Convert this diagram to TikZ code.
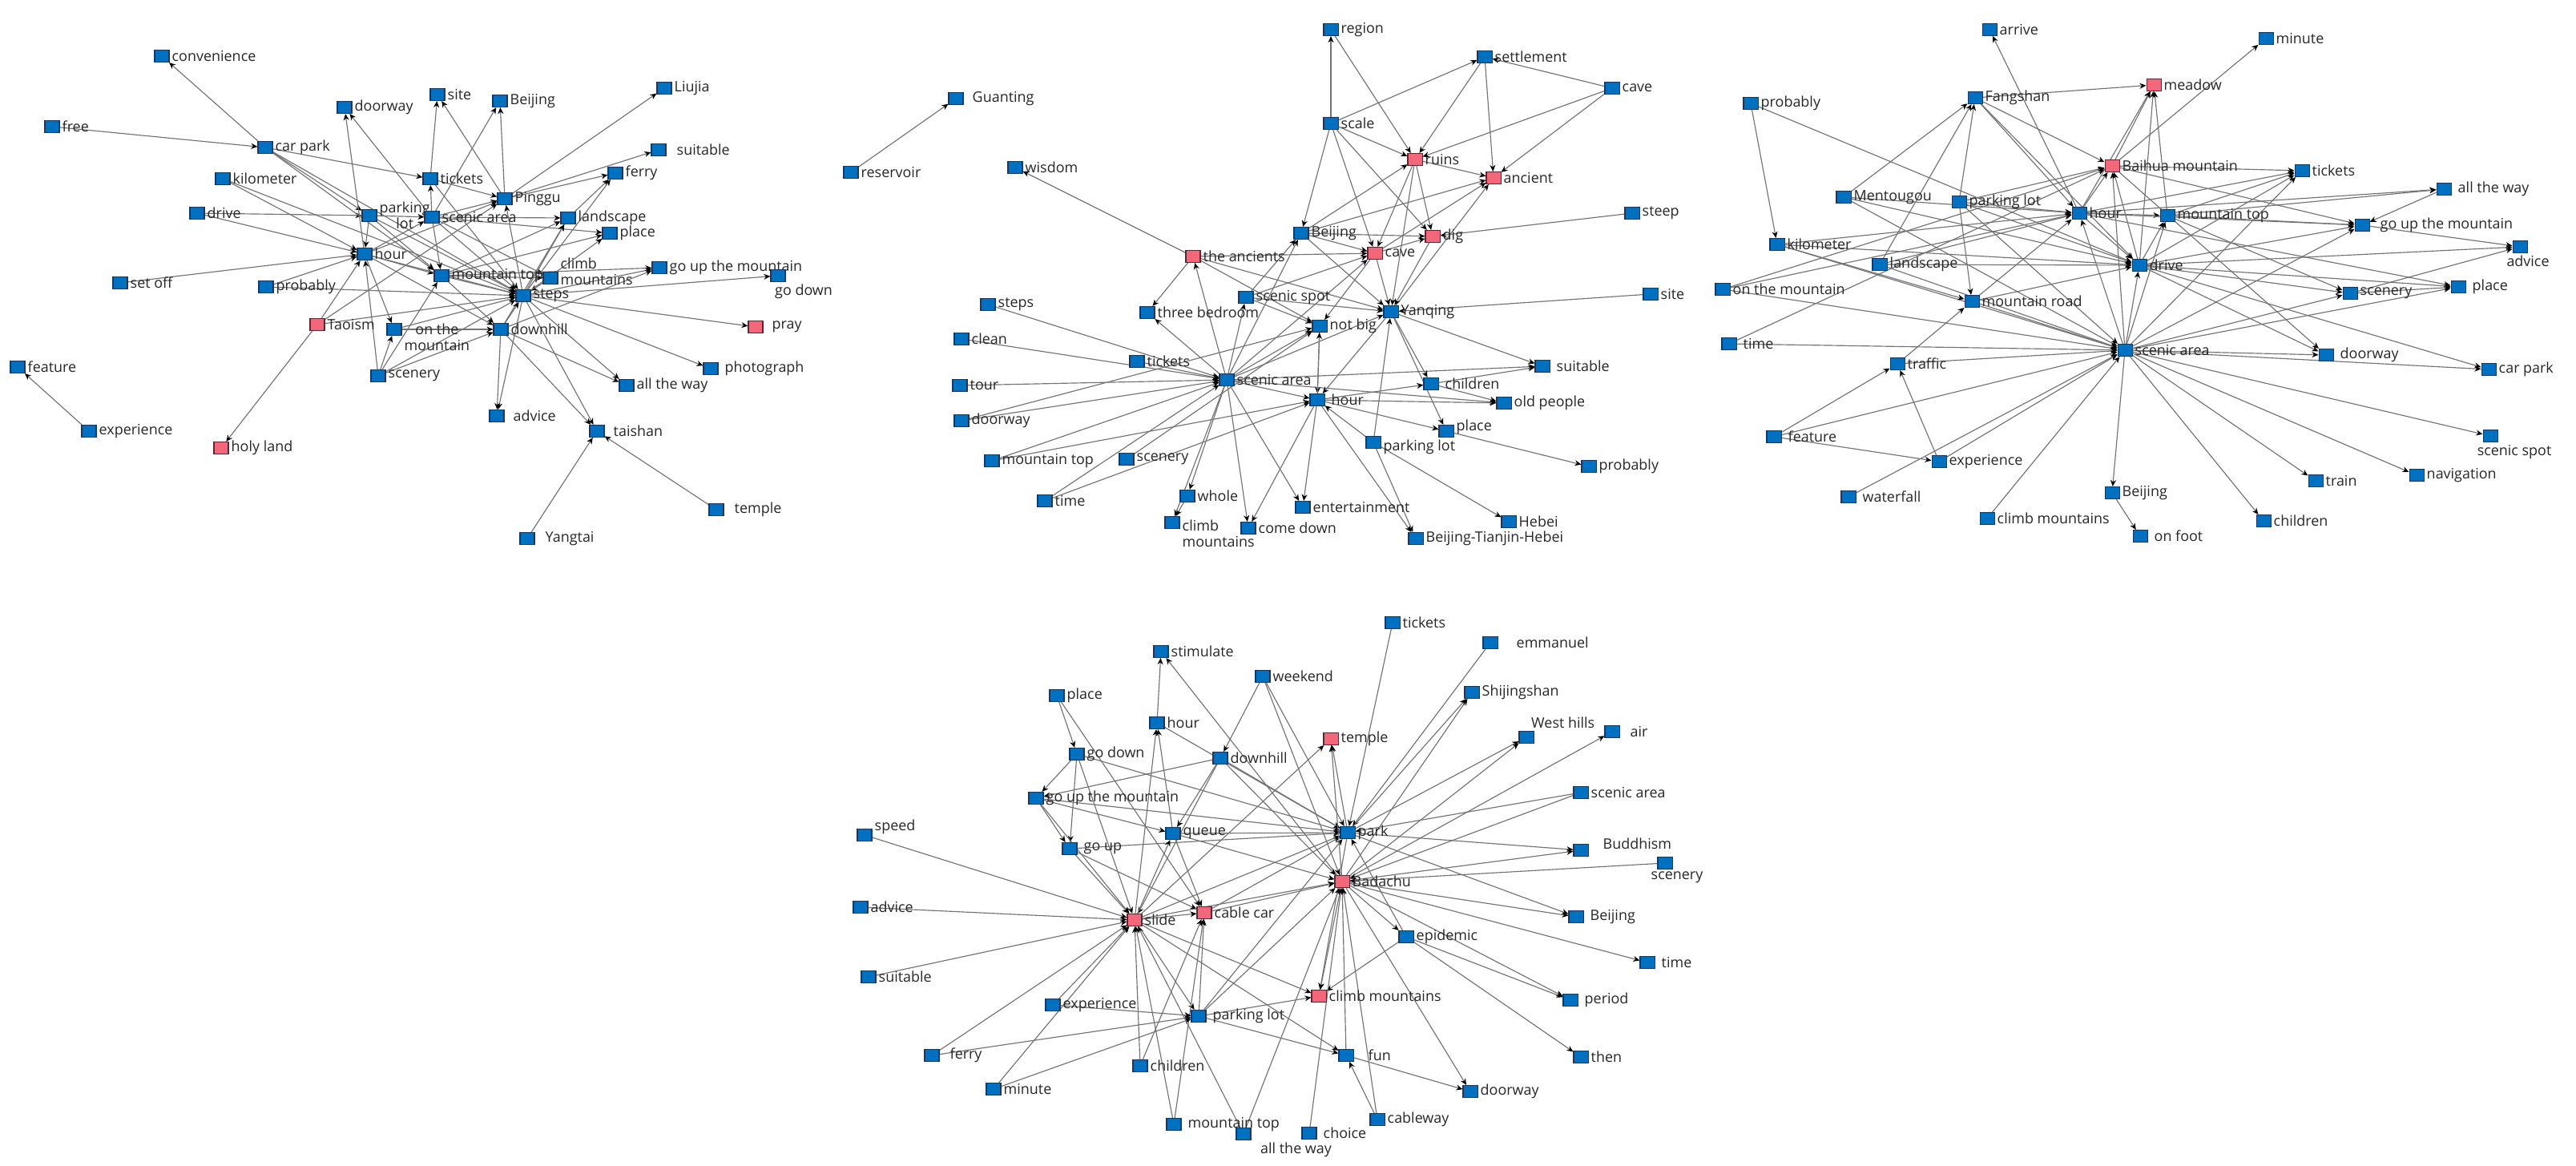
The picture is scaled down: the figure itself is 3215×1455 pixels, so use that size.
\documentclass[tikz,border=0pt]{standalone}
\usepackage{fontspec}
\setmainfont{Open Sans}
\usetikzlibrary{arrows.meta}
\definecolor{bfill}{RGB}{0,112,192}
\definecolor{bline}{RGB}{25,55,100}
\definecolor{pfill}{RGB}{242,104,122}
\definecolor{pline}{RGB}{90,40,50}
\definecolor{eline}{RGB}{115,115,115}
\pgfdeclarelayer{bg}
\pgfsetlayers{bg,main}
\tikzset{
  sq/.style={rectangle, minimum width=0.18cm, minimum height=0.15cm, inner sep=0pt, line width=0.3pt},
  bsq/.style={sq, fill=bfill, draw=bline},
  psq/.style={sq, fill=pfill, draw=pline},
  lbl/.style={font=\fontsize{5.1}{5.7}\selectfont, inner sep=0.7pt, text=black!85, align=left},
  edge/.style={draw=eline, line width=0.33pt, -{Stealth[length=2.3pt,width=2pt,color=black]}}
}
\newcommand{\bsqr}[5][right]{\node[bsq,label={[lbl]#1:{#5}}] (#2) at (#3,#4) {};}
\newcommand{\psqr}[5][right]{\node[psq,label={[lbl]#1:{#5}}] (#2) at (#3,#4) {};}
\begin{document}
\begin{tikzpicture}[x=0.01cm,y=-0.01cm]
\useasboundingbox (0,0) rectangle (3215,1455);
% ---------------- Graph 1 ----------------
\bsqr{aconv}{202}{70}{convenience}
\bsqr{afree}{65}{158}{free}
\bsqr{acp}{331}{184}{car park}
\bsqr{akm}{278}{223}{kilometer}
\bsqr{adrive}{246}{266}{drive}
\bsqr{asetoff}{150}{353}{set off}
\bsqr{aprob}{332}{358}{probably}
\psqr{atao}{396}{405}{Taoism}
\bsqr{afeat}{22}{458}{feature}
\bsqr{aexp}{111}{538}{experience}
\psqr{aholy}{276}{559}{holy land}
\bsqr{adoor}{430}{134}{doorway}
\node[bsq,label={[lbl,align=center]right:{parking\\lot}}] (apl) at (461,269) {};
\bsqr{ahour}{455}{317}{hour}
\node[bsq,label={[lbl,align=center,yshift=-0.1cm]right:{on the\\mountain}}] (aotm) at (492,411) {};
\bsqr{ascen}{472}{469}{scenery}
\bsqr{asite}{546}{118}{site}
\bsqr{abj}{624}{126}{Beijing}
\bsqr{aliujia}{829}{110}{Liujia}
\node[bsq,label={[lbl,xshift=0.1cm]right:{suitable}}] (asuit) at (822,187) {};
\bsqr{atick}{537}{223}{tickets}
\bsqr{aferry}{768}{216}{ferry}
\bsqr{apinggu}{630}{248}{Pinggu}
\bsqr{asa}{539}{271}{scenic area}
\bsqr{aland}{709}{272}{landscape}
\bsqr{aplace}{761}{291}{place}
\bsqr{amt}{551}{344}{mountain top}
\node[bsq,label={[lbl,yshift=0.08cm]right:{climb\\mountains}}] (aclimb) at (687,347) {};
\bsqr{agoup}{823}{334}{go up the mountain}
\node[bsq,label={[lbl,xshift=-0.15cm]below right:{go down}}] (agodown) at (971,344) {};
\bsqr{asteps}{653}{369}{steps}
\bsqr{adh}{625}{411}{downhill}
\node[psq,label={[lbl,xshift=0.08cm]right:{pray}}] (apray) at (943,408) {};
\node[bsq,label={[lbl,xshift=0.05cm]right:{photograph}}] (aphoto) at (887,460) {};
\bsqr{aatw}{782}{481}{all the way}
\node[bsq,label={[lbl,xshift=0.08cm]right:{advice}}] (aadv) at (620,519) {};
\node[bsq,label={[lbl,xshift=0.08cm]right:{taishan}}] (atai) at (745,538) {};
\node[bsq,label={[lbl,xshift=0.1cm]right:{temple}}] (atemple) at (894,636) {};
\node[bsq,label={[lbl,xshift=0.1cm]right:{Yangtai}}] (ayang) at (658,672) {};
% ---------------- Graph 2 ----------------
\node[bsq,label={[lbl,xshift=0.08cm]right:{Guanting}}] (bguan) at (1193,123) {};
\bsqr{bres}{1062}{215}{reservoir}
\bsqr{bwis}{1267}{209}{wisdom}
\psqr{banc}{1489}{320}{the ancients}
\bsqr{bsteps}{1233}{380}{steps}
\bsqr{btb}{1432}{390}{three bedroom}
\bsqr{bclean}{1200}{423}{clean}
\bsqr{btick}{1419}{451}{tickets}
\bsqr{btour}{1198}{481}{tour}
\bsqr{bsa}{1531}{474}{scenic area}
\bsqr{bdoor}{1200}{525}{doorway}
\bsqr{bmt}{1238}{575}{mountain top}
\bsqr{bscen}{1406}{573}{scenery}
\bsqr{btime}{1304}{625}{time}
\bsqr{bwhole}{1482}{619}{whole}
\node[bsq,label={[lbl,yshift=-0.14cm]right:{climb\\mountains}}] (bclimb) at (1463,652) {};
\bsqr{bcd}{1558}{659}{come down}
\bsqr{breg}{1661}{37}{region}
\bsqr{bsett}{1853}{71}{settlement}
\bsqr{bcavet}{2012}{110}{cave}
\bsqr{bscale}{1661}{154}{scale}
\psqr{bruins}{1766}{199}{ruins}
\psqr{bancient}{1864}{222}{ancient}
\bsqr{bsteep}{2037}{266}{steep}
\bsqr{bbj}{1624}{291}{Beijing}
\psqr{bdig}{1788}{295}{dig}
\psqr{bcave}{1716}{316}{cave}
\bsqr{bss}{1555}{371}{scenic spot}
\bsqr{byq}{1736}{389}{Yanqing}
\bsqr{bsite}{2060}{367}{site}
\bsqr{bnb}{1647}{407}{not big}
\node[bsq,label={[lbl,xshift=0.05cm]right:{suitable}}] (bsuit) at (1925,457) {};
\node[bsq,label={[lbl,xshift=0.05cm]right:{children}}] (bchild) at (1786,479) {};
\node[bsq,label={[lbl,xshift=0.05cm]right:{hour}}] (bhour) at (1644,499) {};
\bsqr{bold}{1877}{503}{old people}
\node[bsq,label={[lbl,yshift=0.05cm]right:{place}}] (bplace) at (1805,538) {};
\node[bsq,label={[lbl,yshift=-0.06cm]right:{parking lot}}] (bpl) at (1714,552) {};
\bsqr{bprob}{1983}{582}{probably}
\bsqr{bent}{1626}{633}{entertainment}
\bsqr{bhebei}{1883}{651}{Hebei}
\bsqr{bbth}{1767}{672}{Beijing-Tianjin-Hebei}
% ---------------- Graph 3 ----------------
\bsqr{carr}{2483}{37}{arrive}
\bsqr{cprob}{2185}{129}{probably}
\bsqr{cfang}{2465}{122}{Fangshan}
\psqr{cbai}{2636}{207}{Baihua mountain}
\bsqr{cmen}{2301}{246}{Mentougou}
\bsqr{cpl}{2445}{252}{parking lot}
\bsqr{chour}{2595}{266}{hour}
\bsqr{ckm}{2218}{305}{kilometer}
\bsqr{cland}{2346}{330}{landscape}
\bsqr{cotm}{2150}{361}{on the mountain}
\bsqr{cmr}{2461}{376}{mountain road}
\node[bsq,label={[lbl,xshift=0.05cm]right:{time}}] (ctime) at (2158,429) {};
\bsqr{ctraf}{2368}{454}{traffic}
\bsqr{csa}{2652}{437}{scenic area}
\node[bsq,label={[lbl,xshift=0.05cm]right:{feature}}] (cfeat) at (2214,545) {};
\bsqr{cexp}{2420}{576}{experience}
\node[bsq,label={[lbl,xshift=0.05cm]right:{waterfall}}] (cwater) at (2307,620) {};
\bsqr{cclimb}{2480}{647}{climb mountains}
\bsqr{cbj}{2636}{615}{Beijing}
\bsqr{cminute}{2828}{48}{minute}
\psqr{cmeadow}{2688}{106}{meadow}
\bsqr{ctick}{2873}{213}{tickets}
\node[bsq,label={[lbl,xshift=0.05cm]right:{all the way}}] (catw) at (3050,236) {};
\bsqr{cmt}{2705}{269}{mountain top}
\node[bsq,label={[lbl,xshift=0.1cm]right:{go up the mountain}}] (cgoup) at (2948,281) {};
\node[bsq,label={[lbl,xshift=0.1cm]below:{advice}}] (cadv) at (3145,308) {};
\bsqr{cdrive}{2670}{331}{drive}
\node[bsq,label={[lbl,xshift=0.05cm]right:{place}}] (cplace) at (3068,358) {};
\bsqr{cscen}{2933}{366}{scenery}
\node[bsq,label={[lbl,xshift=0.05cm]right:{doorway}}] (cdoor) at (2903,443) {};
\bsqr{ccp}{3106}{461}{car park}
\node[bsq,label={[lbl,xshift=0.3cm]below:{scenic spot}}] (css) at (3108,544) {};
\bsqr{ctrain}{2890}{600}{train}
\bsqr{cnav}{3016}{593}{navigation}
\bsqr{cchild}{2825}{650}{children}
\node[bsq,label={[lbl,xshift=0.05cm]right:{on foot}}] (cfoot) at (2671,669) {};
% ---------------- Graph 4 ----------------
\bsqr{dstim}{1449}{813}{stimulate}
\bsqr{dweek}{1576}{844}{weekend}
\bsqr{dplace}{1319}{868}{place}
\bsqr{dhour}{1444}{902}{hour}
\bsqr{dgodown}{1344}{941}{go down}
\bsqr{ddh}{1523}{946}{downhill}
\bsqr{dgoupm}{1293}{996}{go up the mountain}
\node[bsq,label={[lbl,yshift=0.1cm]right:{speed}}] (dspeed) at (1079,1042) {};
\bsqr{dqueue}{1464}{1040}{queue}
\node[bsq,label={[lbl,xshift=0.05cm]right:{go up}}] (dgoup) at (1335,1059) {};
\bsqr{dadv}{1074}{1132}{advice}
\psqr{dslide}{1416}{1148}{slide}
\psqr{dcable}{1503}{1139}{cable car}
\bsqr{dsuit}{1084}{1219}{suitable}
\bsqr{dexp}{1314}{1254}{experience}
\node[bsq,label={[lbl,xshift=0.05cm]right:{parking lot}}] (dpl) at (1496,1268) {};
\node[bsq,label={[lbl,xshift=0.1cm]right:{ferry}}] (dferry) at (1163,1317) {};
\bsqr{dchild}{1423}{1330}{children}
\bsqr{dminute}{1240}{1359}{minute}
\node[bsq,label={[lbl,xshift=0.05cm]right:{mountain top}}] (dmt) at (1465,1403) {};
\node[bsq,label={[lbl,xshift=0.1cm]below right:{all the way}}] (datw) at (1552,1415) {};
\bsqr{dtick}{1738}{777}{tickets}
\node[bsq,label={[lbl,xshift=0.2cm]right:{emmanuel}}] (demm) at (1860,802) {};
\bsqr{dshij}{1837}{864}{Shijingshan}
\psqr{dtemple}{1661}{922}{temple}
\node[bsq,label={[lbl,xshift=-0.05cm]above right:{West hills}}] (dwest) at (1905,920) {};
\node[bsq,label={[lbl,xshift=0.1cm]right:{air}}] (dair) at (2012,913) {};
\bsqr{dsa}{1973}{989}{scenic area}
\bsqr{dpark}{1682}{1039}{park}
\node[bsq,label={[lbl,xshift=0.15cm,yshift=0.08cm]right:{Buddhism}}] (dbud) at (1973,1061) {};
\node[bsq,label={[lbl,xshift=0.15cm]below:{scenery}}] (dscen) at (2078,1077) {};
\psqr{dbad}{1675}{1100}{Badachu}
\node[bsq,label={[lbl,xshift=0.05cm]right:{Beijing}}] (dbj) at (1967,1144) {};
\bsqr{depi}{1755}{1169}{epidemic}
\node[bsq,label={[lbl,xshift=0.05cm]right:{time}}] (dtime) at (2056,1201) {};
\node[bsq,label={[lbl,xshift=0.05cm]right:{period}}] (dperiod) at (1960,1248) {};
\psqr{dclimb}{1646}{1243}{climb mountains}
\node[bsq,label={[lbl,xshift=0.15cm]right:{fun}}] (dfun) at (1680,1317) {};
\bsqr{dthen}{1973}{1319}{then}
\bsqr{ddoor}{1835}{1362}{doorway}
\bsqr{dcw}{1719}{1397}{cableway}
\node[bsq,label={[lbl,xshift=0.05cm]right:{choice}}] (dchoice) at (1634,1414) {};
% ---------------- Edges ----------------
\begin{pgfonlayer}{bg}
\foreach \s/\t in {acp/aconv, afree/acp, aexp/afeat, atao/aholy, ayang/atai, atemple/atai,
  akm/ahour, akm/asteps, adrive/apl, adrive/ahour, asetoff/ahour, aprob/ahour, aprob/asteps,
  atao/ahour, atao/asteps, atao/apinggu, acp/atick, acp/apl, acp/asteps, acp/amt,
  ahour/adoor, asa/adoor, apl/ahour, apl/asa, apl/asteps, apl/amt,
  ahour/amt, ahour/asteps, ahour/adh, ahour/apinggu, ahour/asa, ahour/aotm,
  aotm/asteps, ascen/ahour, ascen/aotm, ascen/asteps, ascen/amt,
  atick/asite, asa/atick, atick/apinggu, atick/asteps,
  apinggu/asite, apinggu/abj, asa/abj, apinggu/aliujia, apinggu/asuit, apinggu/aferry,
  asa/amt, asa/apinggu, asa/aland, asa/aplace, asa/asteps, asa/aclimb,
  amt/asteps, amt/adh, amt/aclimb, amt/agoup, amt/aplace, amt/aland,
  aclimb/asteps, aland/aferry, asteps/aferry, adh/aland,
  asteps/agoup, asteps/agodown, asteps/apray, asteps/aphoto, asteps/aatw, asteps/atai,
  asteps/aadv, asteps/aplace, asteps/aland, asteps/apinggu,
  adh/aadv, adh/aatw, adh/atai, adh/asteps, adh/agoup, aotm/adh, ascen/adh}
  \draw[edge] (\s) -- (\t);
\foreach \s/\t in {bres/bguan, banc/bwis, banc/btb, bsa/banc, bsa/btb,
  bsteps/bsa, bclean/bsa, btour/bsa, bdoor/bsa, bmt/bsa, btime/bsa, btick/bsa,
  bscen/bnb, btime/bhour, bmt/bhour, bdoor/bnb,
  bsa/bwhole, bwhole/bclimb, bsa/bclimb, bsa/bcd, bhour/bcd, bsa/bent,
  bsa/bbj, bsa/bcave, bsa/bnb, bsa/byq, bsa/bhour, bsa/bsuit, bsa/bold, bsa/bss,
  banc/bcave, banc/byq, banc/bnb,
  bscale/breg, breg/bruins, bscale/bsett, bscale/bruins, bscale/bbj, bscale/bcave, bscale/bdig,
  bsett/bruins, bsett/bancient, bcavet/bsett, bcavet/bruins, bcavet/bancient,
  bruins/bancient, bruins/bdig, bruins/bcave, bruins/byq, bbj/bruins,
  bbj/bancient, bcave/bancient, byq/bancient,
  bsteep/bdig, bbj/bcave, bbj/bdig, bbj/byq,
  bcave/bdig, bcave/byq, bcave/bnb, bdig/byq,
  bss/bbj, bss/byq, bss/bnb, bss/bcave,
  bsite/byq, byq/bsuit, byq/bchild, byq/bplace, byq/bhour, bpl/byq,
  bnb/bhour, bhour/bnb, bhour/bchild, bhour/bold, bhour/bplace, bhour/bent, bhour/bbth,
  bchild/bold, bchild/bsuit, bplace/bprob, bpl/bhebei, bpl/bbth, bpl/bhour}
  \draw[edge] (\s) -- (\t);
\foreach \s/\t in {chour/carr, cprob/ckm, cprob/cdrive, cfang/cbai, cfang/chour, cfang/cdrive,
  cfang/cmeadow, cpl/cfang, cland/cfang, cmen/cfang,
  cmen/chour, cmen/csa, cmen/cdrive,
  cpl/chour, cpl/cmr, cpl/cbai, cpl/cdrive, cpl/csa,
  ckm/chour, ckm/csa, ckm/cdrive, ckm/cmr,
  cland/chour, cland/cdrive, cland/csa,
  cotm/chour, cotm/csa, cotm/cbai,
  cmr/chour, cmr/csa, cmr/cdrive,
  ctime/csa, ctime/cbai, ctraf/csa, ctraf/cmr, cfeat/ctraf, cexp/ctraf, cfeat/cexp,
  cfeat/csa, cexp/csa, cwater/csa, cclimb/csa,
  csa/cbj, cbj/cfoot,
  csa/cdrive, csa/chour, csa/cbai, csa/cmt, csa/ctick, csa/cgoup, csa/cscen, csa/cplace,
  csa/cdoor, csa/ccp, csa/css, csa/cnav, csa/ctrain, csa/cchild,
  cbai/cmeadow, chour/cmeadow, cmt/cmeadow, cdrive/cmeadow, cbai/cminute,
  chour/cbai, cdrive/cbai,
  chour/cmt, chour/cdrive, chour/ctick, chour/catw, chour/cgoup, chour/cplace,
  cbai/ctick, cbai/cgoup, cbai/cdoor,
  cmt/ctick, cmt/cgoup, cmt/catw, cmt/cscen,
  cdrive/cmt, cdrive/ctick, cdrive/cgoup, cdrive/cplace, cdrive/cadv, cdrive/cdoor,
  cdrive/ccp, cdrive/cscen,
  cgoup/cadv, catw/cgoup, cscen/cplace, cscen/cadv}
  \draw[edge] (\s) -- (\t);
\foreach \s/\t in {dhour/dstim, dbad/dstim, dplace/dgodown, dplace/dcable,
  dgodown/dgoup, dgodown/dslide, dgodown/dpark, dgodown/dgoupm,
  dgoupm/dslide, dgoupm/dqueue, dgoupm/dpark, dgoupm/dgoup, ddh/dgoupm,
  dgoup/dslide, dgoup/dcable, dgoup/dpark,
  dspeed/dslide, dadv/dslide, dsuit/dslide, dferry/dslide, dminute/dslide, dexp/dslide,
  dchild/dslide, dmt/dslide,
  dslide/dhour, dqueue/dhour, dhour/dpark,
  ddh/dqueue, ddh/dslide, ddh/dpark, ddh/dbad, dweek/ddh, dweek/dpark, dweek/dbad,
  dqueue/dcable, dqueue/dpark, dqueue/dbad, dslide/dqueue,
  dslide/dcable, dslide/dpark, dslide/dbad, dslide/dpl, dslide/dclimb, dslide/dfun,
  dcable/dbad, dcable/dpark, dpl/dcable, dchild/dcable, dmt/dcable,
  dpl/dbad, dpl/dpark, dpl/dclimb, dpl/dfun, dferry/dpl, dminute/dpl, dexp/dpl,
  dtick/dpark, demm/dpark, dbad/dshij, dpark/dshij,
  dbad/dwest, dpark/dwest, dbad/dair,
  dsa/dpark, dsa/dbad, dpark/dbud, dbad/dbud, dscen/dbad, dpark/dbj, dbad/dbj, dbad/dtime,
  dbad/depi, depi/dpark, depi/dperiod, dbad/dperiod, depi/dthen, depi/dclimb,
  dbad/dtemple, dpark/dtemple, dslide/dtemple,
  dbad/dclimb, dpark/dclimb,
  dfun/dbad, dfun/ddoor, dbad/ddoor, dcw/dfun, dcw/dbad, dchoice/dbad, datw/dbad, datw/dslide}
  \draw[edge] (\s) -- (\t);
\end{pgfonlayer}
\end{tikzpicture}
\end{document}
